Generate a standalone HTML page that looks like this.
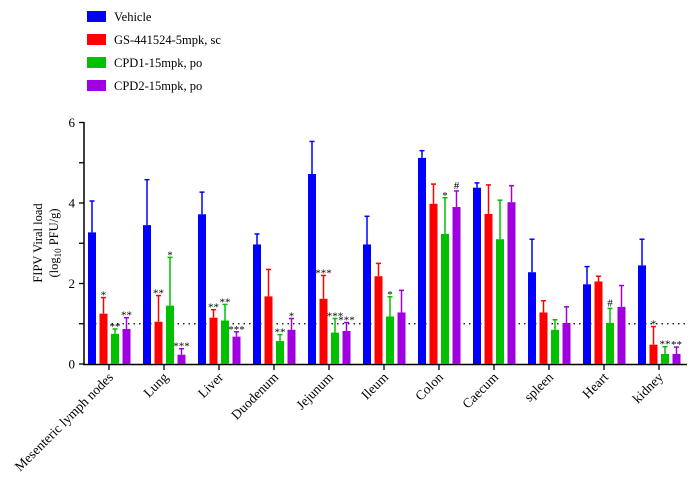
<!DOCTYPE html>
<html><head><meta charset="utf-8"><style>
html,body{margin:0;padding:0;background:#fff;}
svg{display:block;font-family:"Liberation Serif",serif;}
</style></head><body>
<svg id="s" width="699" height="486" xmlns="http://www.w3.org/2000/svg">
<g font-size="12.5" fill="#000">
<rect x="87" y="11" width="19" height="11" fill="#0000ff"/><text x="114" y="21">Vehicle</text>
<rect x="87" y="34" width="19" height="11" fill="#ff0000"/><text x="114" y="44">GS-441524-5mpk, sc</text>
<rect x="87" y="57" width="19" height="11" fill="#00c000"/><text x="114" y="67">CPD1-15mpk, po</text>
<rect x="87" y="80" width="19" height="11" fill="#a000e0"/><text x="114" y="90">CPD2-15mpk, po</text>
</g>
<text transform="translate(42,243) rotate(-90)" text-anchor="middle" font-size="12.5">FIPV Viral load</text>
<text transform="translate(58,243) rotate(-90)" text-anchor="middle" font-size="12.5">(log<tspan font-size="9" dy="3">10</tspan><tspan dy="-3"> PFU/g)</tspan></text>
<g id="g"></g>
</svg>
<script>
var g=document.getElementById('g'),h='';
var Y=function(v){return 364-v*40.25;};
h+='<line x1="84" y1="122" x2="84" y2="365" stroke="#000" stroke-width="1.5"/>';
h+='<line x1="83" y1="364.5" x2="687" y2="364.5" stroke="#000" stroke-width="1.5"/>';
for(var t=0;t<=6;t++){var y=Y(t);h+='<line x1="79" y1="'+y+'" x2="84" y2="'+y+'" stroke="#000" stroke-width="1.3"/>';if(t%2==0)h+='<text x="75" y="'+(y+4.5)+'" text-anchor="end" font-size="13">'+t+'</text>';}
h+='<line x1="95" y1="'+Y(1)+'" x2="687" y2="'+Y(1)+'" stroke="#000" stroke-width="1.3" stroke-dasharray="1.5,4"/>';
var names=["Mesenteric lymph nodes","Lung","Liver","Duodenum","Jejunum","Ileum","Colon","Caecum","spleen","Heart","kidney"];
var D=[[[3.27,4.05],[1.25,1.65],[0.75,0.87],[0.87,1.15]],
[[3.45,4.58],[1.05,1.7],[1.45,2.65],[0.23,0.38]],
[[3.72,4.27],[1.15,1.35],[1.08,1.48],[0.68,0.8]],
[[2.97,3.23],[1.68,2.35],[0.57,0.73],[0.85,1.13]],
[[4.72,5.53],[1.62,2.2],[0.78,1.13],[0.82,1.03]],
[[2.97,3.67],[2.18,2.5],[1.18,1.67],[1.28,1.83]],
[[5.12,5.3],[3.98,4.47],[3.23,4.13],[3.9,4.3]],
[[4.38,4.5],[3.73,4.45],[3.1,4.07],[4.02,4.43]],
[[2.28,3.1],[1.28,1.57],[0.85,1.1],[1.02,1.42]],
[[1.98,2.42],[2.05,2.18],[1.02,1.38],[1.42,1.95]],
[[2.45,3.1],[0.48,0.93],[0.25,0.43],[0.25,0.42]]];
var S=[["","*","**","**"],["","**","*","***"],["","**","**","***"],["","","**","*"],["","***","***","***"],["","","*",""],["","","*","#"],["","","",""],["","","",""],["","","#",""],["","*","**","**"]];
var C=["#0000ff","#ff0000","#00c000","#a000e0"],off=[-17,-5.5,6,17.5];
for(var i=0;i<11;i++){var cx=109+55*i;
h+='<line x1="'+cx+'" y1="364" x2="'+cx+'" y2="370" stroke="#000" stroke-width="1.3"/>';
h+='<text transform="translate('+(cx+5)+',378) rotate(-45)" text-anchor="end" font-size="13.5">'+names[i]+'</text>';
for(var k=0;k<4;k++){var x=cx+off[k],v=D[i][k];
h+='<line x1="'+x+'" y1="'+Y(v[1])+'" x2="'+x+'" y2="'+Y(v[0])+'" stroke="'+C[k]+'" stroke-width="1.5"/>';
h+='<line x1="'+(x-2.5)+'" y1="'+Y(v[1])+'" x2="'+(x+2.5)+'" y2="'+Y(v[1])+'" stroke="'+C[k]+'" stroke-width="1.5"/>';
h+='<rect x="'+(x-4)+'" y="'+Y(v[0])+'" width="8" height="'+(364-Y(v[0]))+'" fill="'+C[k]+'"/>';
if(S[i][k])h+='<text x="'+x+'" y="'+(Y(v[1])+(S[i][k]=="#"?-2:1))+'" text-anchor="middle" font-size="11">'+S[i][k]+'</text>';}}
g.innerHTML=h;
</script>
</body></html>
